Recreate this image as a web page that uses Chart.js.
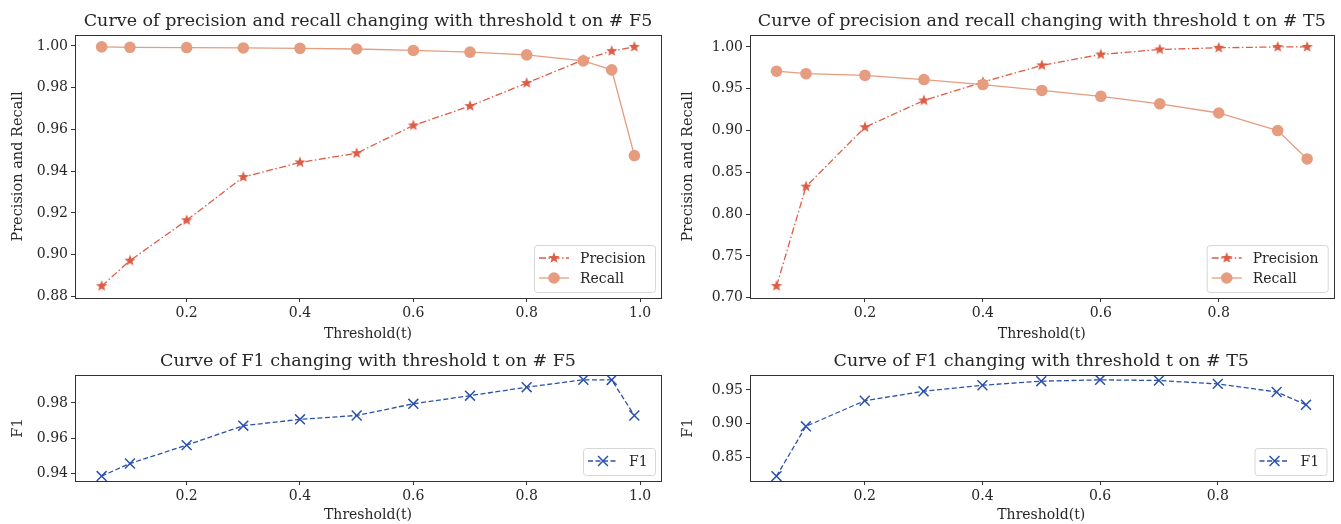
<!DOCTYPE html>
<html>
<head>
<meta charset="utf-8">
<script src="https://cdn.jsdelivr.net/npm/chart.js@4"></script>
<style>
  body { margin: 0; background: #fff; }
  #wrap { position: relative; width: 1341px; height: 524px; }
  canvas { position: absolute; }
</style>
</head>
<body>
<div id="wrap">
  <canvas id="prF5" width="670" height="345" style="left:0;top:0"></canvas>
  <canvas id="prT5" width="671" height="345" style="left:670px;top:0"></canvas>
  <canvas id="f1F5" width="670" height="184" style="left:0;top:340px"></canvas>
  <canvas id="f1T5" width="671" height="184" style="left:670px;top:340px"></canvas>
</div>
<script>
// thresholds
var thrF5 = [0.05, 0.1, 0.2, 0.3, 0.4, 0.5, 0.6, 0.7, 0.8, 0.9, 0.95, 0.99];
var thrT5 = [0.05, 0.1, 0.2, 0.3, 0.4, 0.5, 0.6, 0.7, 0.8, 0.9, 0.95];

// F5 values
var precisionF5 = [0.885, 0.8972, 0.9165, 0.9372, 0.9442, 0.9486, 0.9619, 0.9712, 0.9822, 0.9933, 0.9975, 0.9995];
var recallF5 = [0.9995, 0.9993, 0.9992, 0.9990, 0.9988, 0.9985, 0.9978, 0.9970, 0.9957, 0.9928, 0.9885, 0.9475];
var f1F5 = [0.9386, 0.9457, 0.9561, 0.9671, 0.9707, 0.9729, 0.9795, 0.9841, 0.9889, 0.9931, 0.9930, 0.9729];

// T5 values
var precisionT5 = [0.714, 0.833, 0.904, 0.936, 0.958, 0.978, 0.991, 0.997, 0.999, 1.0, 1.0];
var recallT5 = [0.971, 0.968, 0.966, 0.961, 0.955, 0.948, 0.941, 0.932, 0.921, 0.900, 0.866];
var f1T5 = [0.822, 0.896, 0.934, 0.948, 0.957, 0.963, 0.965, 0.964, 0.959, 0.947, 0.928];

// tick labels
var xTicksF5 = [0.2, 0.4, 0.6, 0.8, 1.0];
var xTicksT5 = [0.2, 0.4, 0.6, 0.8];
var yTicksPrF5 = [0.88, 0.90, 0.92, 0.94, 0.96, 0.98, 1.00];
var yTicksPrT5 = [0.70, 0.75, 0.80, 0.85, 0.90, 0.95, 1.00];
var yTicksF1F5 = [0.94, 0.96, 0.98];
var yTicksF1T5 = [0.85, 0.90, 0.95];

var FONT = 'DejaVu Serif';
var TXT = '#262626';
var AX = '#333333';
var cPrec = '#dd5c45';
var cRec = '#e59c7f';
var cF1 = '#2a52aa';

function starImage(color, r) {
  var c = document.createElement('canvas');
  c.width = c.height = Math.ceil(r * 2 + 2);
  var g = c.getContext('2d');
  var cx = c.width / 2, cy = c.height / 2;
  g.beginPath();
  for (var i = 0; i < 10; i++) {
    var rr = i % 2 === 0 ? r : r * 0.42;
    var a = -Math.PI / 2 + i * Math.PI / 5;
    g.lineTo(cx + rr * Math.cos(a), cy + rr * Math.sin(a));
  }
  g.closePath();
  g.fillStyle = color;
  g.fill();
  return c;
}
var star = starImage(cPrec, 6);

function pts(xs, ys) {
  return xs.map(function (x, i) { return { x: x, y: ys[i] }; });
}

// box round the plot area + title centred over it
var framePlugin = {
  id: 'frame',
  afterDraw: function (chart, args, o) {
    var a = chart.chartArea, ctx = chart.ctx;
    ctx.save();
    ctx.strokeStyle = AX;
    ctx.lineWidth = 1;
    ctx.strokeRect(Math.round(a.left) + 0.5, Math.round(a.top) + 0.5,
      Math.round(a.right - a.left), Math.round(a.bottom - a.top));
    ctx.fillStyle = TXT;
    ctx.font = '17.5px "' + FONT + '"';
    ctx.textAlign = 'center';
    ctx.textBaseline = 'alphabetic';
    ctx.fillText(o.text, (a.left + a.right) / 2, o.y);
    ctx.restore();
  }
};

// legend in the lower right corner, like matplotlib
var boxLegend = {
  id: 'boxLegend',
  afterDraw: function (chart, args, o) {
    var a = chart.chartArea, ctx = chart.ctx;
    var items = chart.data.datasets;
    var h = items.length * 20 + 7, w = o.width;
    var x0 = a.right - 6 - w, y0 = a.bottom - 6 - h;
    ctx.save();
    ctx.beginPath();
    ctx.roundRect(x0 + 0.5, y0 + 0.5, w, h, 3);
    ctx.fillStyle = 'rgba(255,255,255,0.8)';
    ctx.fill();
    ctx.strokeStyle = '#d6d6d6';
    ctx.lineWidth = 1;
    ctx.stroke();
    items.forEach(function (ds, i) {
      var y = y0 + 13 + i * 20;
      ctx.beginPath();
      ctx.setLineDash(ds.borderDash || []);
      ctx.strokeStyle = ds.borderColor;
      ctx.lineWidth = ds.borderWidth;
      ctx.moveTo(x0 + 5, y);
      ctx.lineTo(x0 + 35, y);
      ctx.stroke();
      ctx.setLineDash([]);
      var mx = x0 + 20;
      if (ds.pointStyle === 'circle') {
        ctx.beginPath();
        ctx.arc(mx, y, ds.pointRadius, 0, Math.PI * 2);
        ctx.fillStyle = ds.pointBackgroundColor;
        ctx.fill();
      } else if (ds.pointStyle === 'crossRot') {
        var d = ds.pointRadius * 0.707;
        ctx.beginPath();
        ctx.strokeStyle = ds.pointBorderColor;
        ctx.lineWidth = ds.pointBorderWidth;
        ctx.moveTo(mx - d, y - d); ctx.lineTo(mx + d, y + d);
        ctx.moveTo(mx - d, y + d); ctx.lineTo(mx + d, y - d);
        ctx.stroke();
      } else {
        ctx.drawImage(ds.pointStyle, mx - ds.pointStyle.width / 2, y - ds.pointStyle.height / 2);
      }
      ctx.fillStyle = TXT;
      ctx.font = '14px "' + FONT + '"';
      ctx.textBaseline = 'middle';
      ctx.fillText(ds.label, x0 + 46, y + 1);
    });
    ctx.restore();
  }
};

function precisionSet(xs, ys) {
  return {
    label: 'Precision', data: pts(xs, ys), order: 1,
    borderColor: cPrec, borderWidth: 1.3, borderDash: [7, 2.5, 1.5, 2.5],
    pointStyle: star, pointRadius: 6, pointHoverRadius: 6
  };
}
function recallSet(xs, ys) {
  return {
    label: 'Recall', data: pts(xs, ys), order: 0,
    borderColor: cRec, borderWidth: 1.3,
    pointStyle: 'circle', pointRadius: 5.8, pointHoverRadius: 5.8,
    pointBackgroundColor: cRec, pointBorderColor: cRec, pointBorderWidth: 0
  };
}
function f1Set(xs, ys) {
  return {
    label: 'F1', data: pts(xs, ys),
    borderColor: cF1, borderWidth: 1.3, borderDash: [5, 2.5],
    pointStyle: 'crossRot', pointRadius: 7, pointHoverRadius: 7,
    pointBorderColor: cF1, pointBorderWidth: 1.5, pointBackgroundColor: cF1
  };
}

function makeChart(id, o) {
  return new Chart(document.getElementById(id), {
    type: 'line',
    data: { datasets: o.datasets },
    options: {
      responsive: false,
      animation: false,
      events: [],
      layout: { padding: { right: o.padRight, left: 0, bottom: 0, top: 35 } },
      scales: {
        x: {
          type: 'linear', min: o.xMin, max: o.xMax,
          afterFit: function (s) { s.height = o.xHeight; },
          afterBuildTicks: function (s) { s.ticks = o.xTicks.map(function (v) { return { value: v }; }); },
          ticks: { color: TXT, font: { family: FONT, size: 14 }, padding: 3, maxRotation: 0,
            callback: function (v) { return v.toFixed(1); } },
          grid: { drawOnChartArea: false, tickLength: 4, tickColor: AX, color: AX },
          border: { display: true, color: AX },
          title: { display: true, text: 'Threshold(t)', color: TXT, font: { family: FONT, size: 14 },
            padding: { top: 0, bottom: o.xTitlePad } }
        },
        y: {
          type: 'linear', min: o.yMin, max: o.yMax,
          afterFit: function (s) { s.width = o.yWidth; },
          afterBuildTicks: function (s) { s.ticks = o.yTicks.map(function (v) { return { value: v }; }); },
          ticks: { color: TXT, font: { family: FONT, size: 14 }, padding: 3,
            callback: function (v) { return v.toFixed(2); } },
          grid: { drawOnChartArea: false, tickLength: 4, tickColor: AX, color: AX },
          border: { display: true, color: AX },
          title: { display: true, text: o.yLabel, color: TXT, font: { family: FONT, size: 14.5 },
            padding: { top: 10, bottom: 0 } }
        }
      },
      plugins: {
        legend: { display: false },
        tooltip: { enabled: false },
        title: { display: false },
        frame: { text: o.title, y: 26 },
        boxLegend: { width: o.legendWidth }
      }
    },
    plugins: [framePlugin, boxLegend]
  });
}

makeChart('prF5', {
  title: 'Curve of precision and recall changing with threshold t on # F5',
  datasets: [precisionSet(thrF5, precisionF5), recallSet(thrF5, recallF5)],
  xMin: 0.003, xMax: 1.037, yMin: 0.8793, yMax: 1.0052,
  xTicks: xTicksF5, yTicks: yTicksPrF5, yLabel: 'Precision and Recall',
  yWidth: 75, xHeight: 47, padRight: 9, xTitlePad: 2, legendWidth: 121
});
makeChart('prT5', {
  title: 'Curve of precision and recall changing with threshold t on # T5',
  datasets: [precisionSet(thrT5, precisionT5), recallSet(thrT5, recallT5)],
  xMin: 0.005, xMax: 0.995, yMin: 0.6997, yMax: 1.0143,
  xTicks: xTicksT5, yTicks: yTicksPrT5, yLabel: 'Precision and Recall',
  yWidth: 80, xHeight: 47, padRight: 6, xTitlePad: 2, legendWidth: 121
});
makeChart('f1F5', {
  title: 'Curve of F1 changing with threshold t on # F5',
  datasets: [f1Set(thrF5, f1F5)],
  xMin: 0.003, xMax: 1.037, yMin: 0.9358, yMax: 0.9958,
  xTicks: xTicksF5, yTicks: yTicksF1F5, yLabel: 'F1',
  yWidth: 75, xHeight: 43, padRight: 9, xTitlePad: 0, legendWidth: 72
});
makeChart('f1T5', {
  title: 'Curve of F1 changing with threshold t on # T5',
  datasets: [f1Set(thrT5, f1T5)],
  xMin: 0.005, xMax: 0.995, yMin: 0.8148, yMax: 0.9722,
  xTicks: xTicksT5, yTicks: yTicksF1T5, yLabel: 'F1',
  yWidth: 80, xHeight: 43, padRight: 6, xTitlePad: 0, legendWidth: 72
});
</script>
</body>
</html>
